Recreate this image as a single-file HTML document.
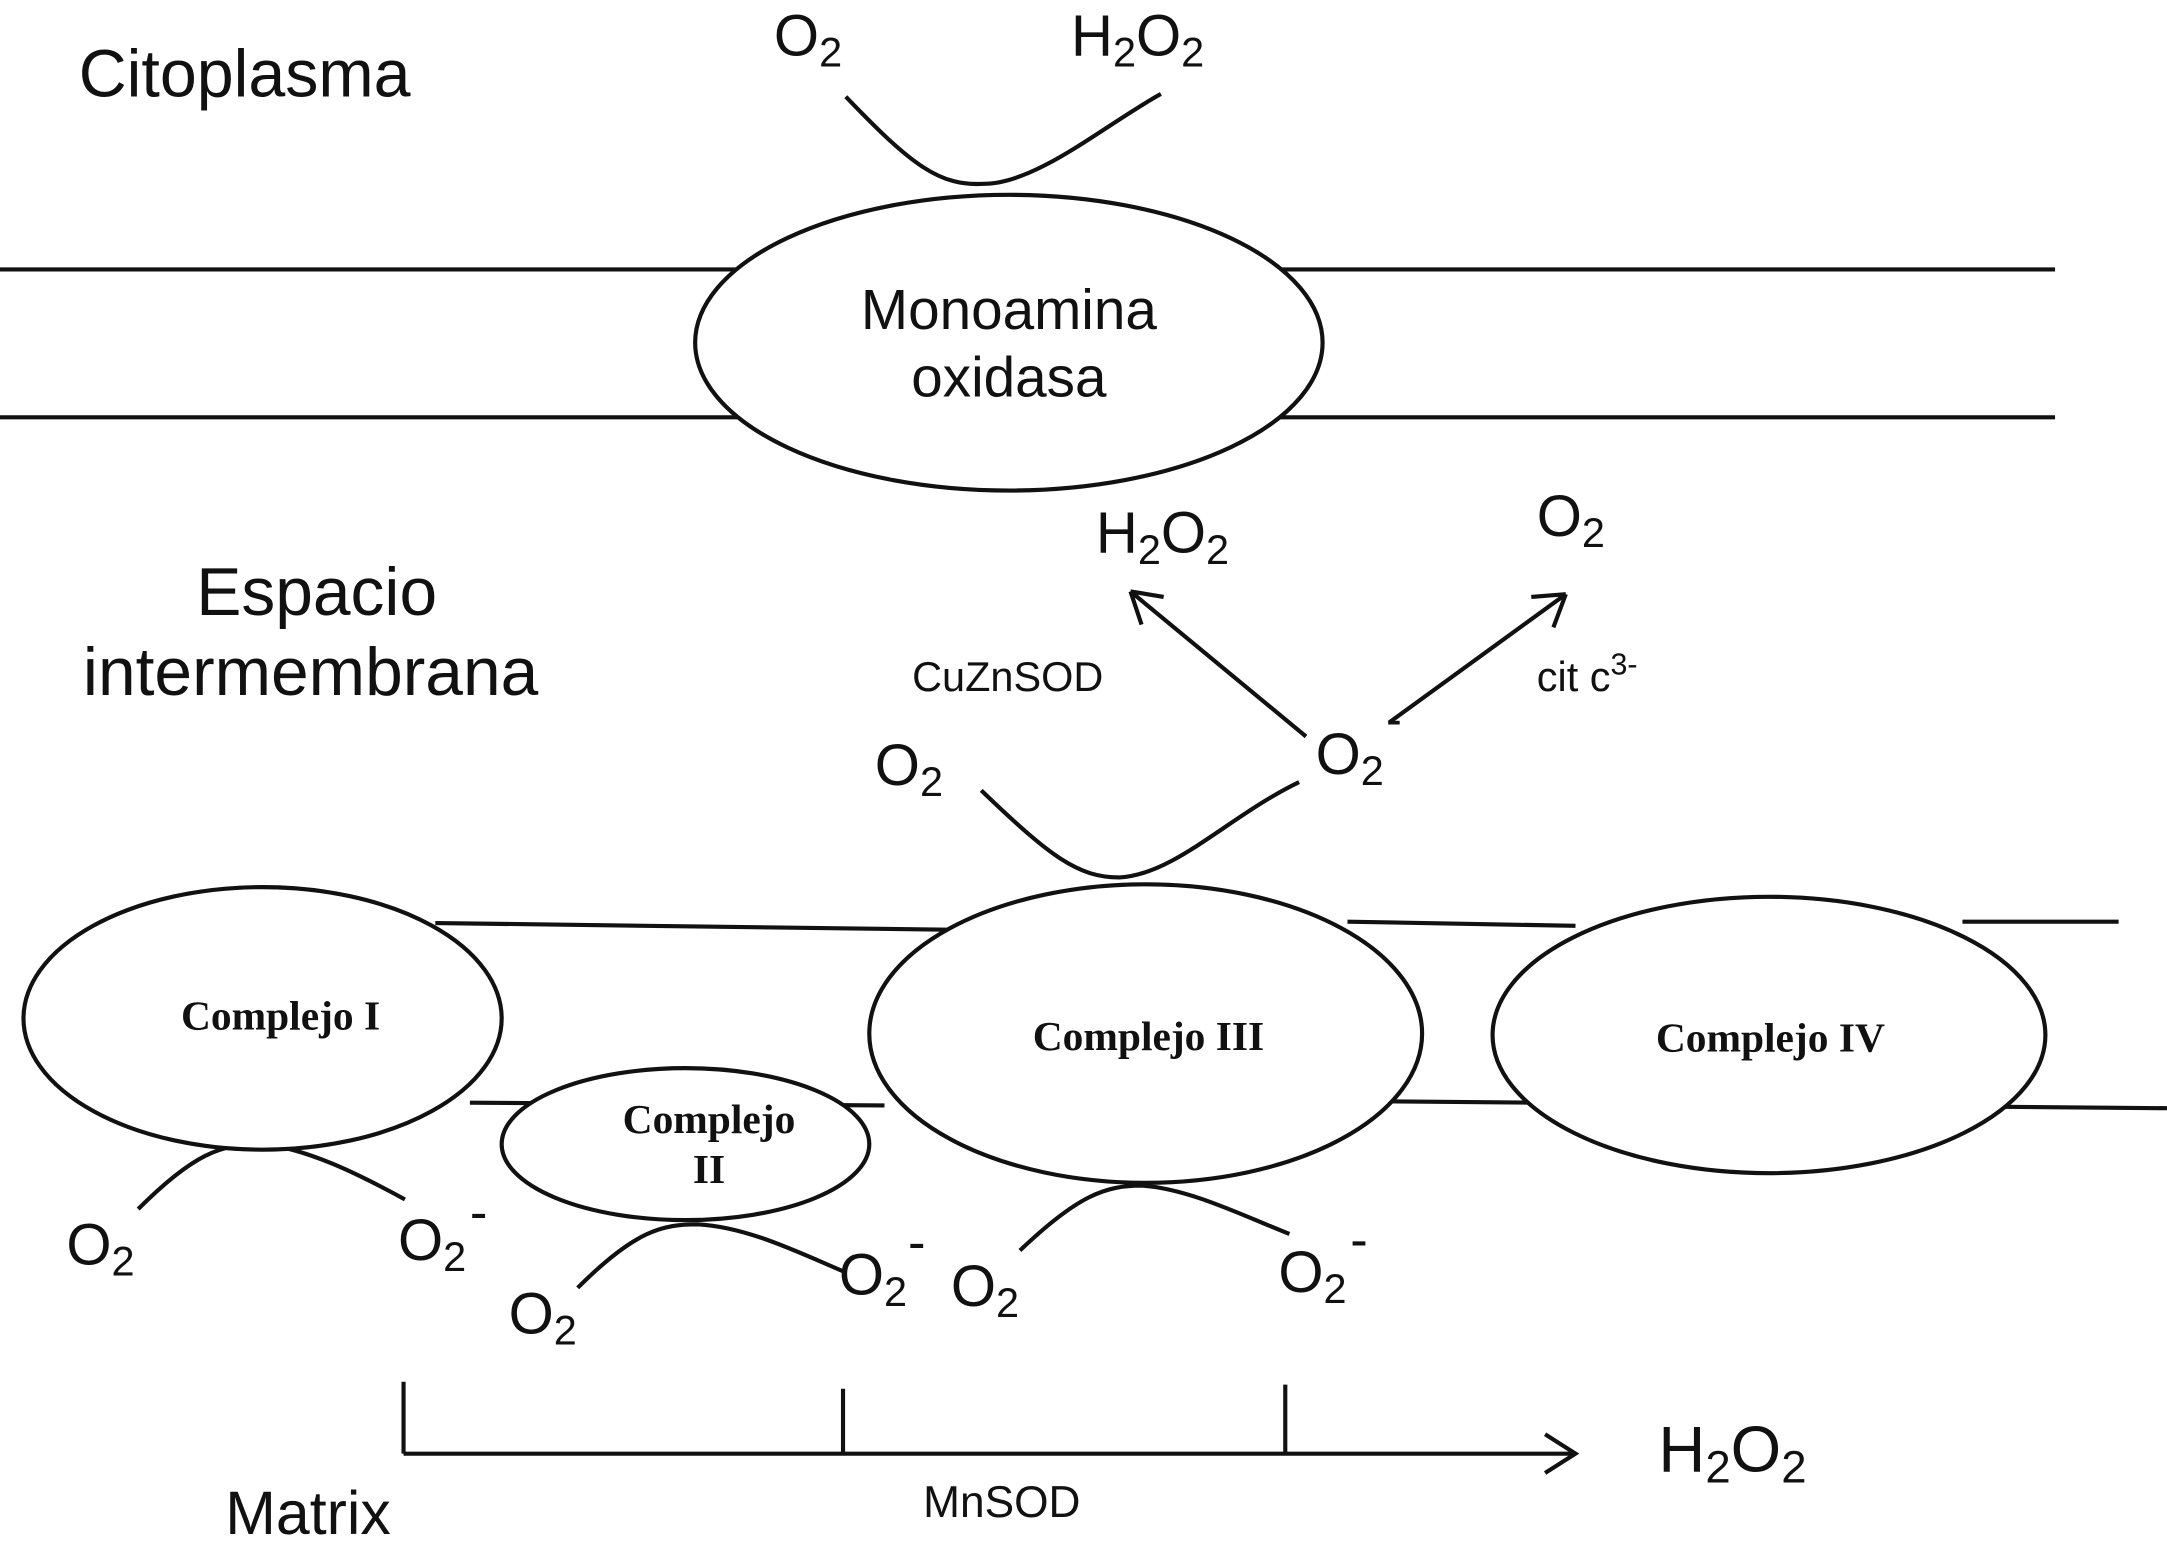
<!DOCTYPE html>
<html><head><meta charset="utf-8"><style>
html,body{margin:0;padding:0;background:#fff;}
svg{display:block;}
text{font-family:"Liberation Sans",sans-serif;fill:#111;}
.b{font-family:"Liberation Serif",serif;font-weight:bold;}
</style></head><body>
<svg width="2167" height="1549" viewBox="0 0 1568 1121" preserveAspectRatio="none" xmlns="http://www.w3.org/2000/svg">
<g stroke="#111" stroke-width="3" fill="none">
<line x1="0" y1="195" x2="1487" y2="195"/>
<line x1="0" y1="302" x2="1487" y2="302"/>
<path d="M612 70 C660 120 680 135 712 133 C750 133 800 90 840 68"/>
<line x1="315" y1="668" x2="700" y2="673"/>
<line x1="975" y1="667" x2="1140" y2="670"/>
<line x1="1420" y1="667" x2="1533" y2="667"/>
<line x1="340" y1="798" x2="640" y2="800"/>
<line x1="1000" y1="797" x2="1568" y2="802"/>
<path d="M710 572 C760 620 780 635 810 635 C850 633 890 590 940 566"/>
<path d="M945 533 L818 428 M818 428 L842 432 M818 428 L826 452"/>
<path d="M1005 523 L1133 430 M1133 430 L1108 432 M1133 430 L1124 454"/>
<path d="M100 875 C140 835 160 828 188 828 C220 830 260 850 293 868"/>
<path d="M418 932 C460 890 480 886 505 886 C540 888 575 905 610 920"/>
<path d="M738 905 C780 865 800 858 826 858 C860 860 900 880 933 893"/>
<line x1="292" y1="1052" x2="1140" y2="1052"/>
<path d="M1118 1038 L1140 1052 L1118 1066"/>
<line x1="292" y1="1000" x2="292" y2="1052"/>
<line x1="610" y1="1005" x2="610" y2="1052"/>
<line x1="930" y1="1002" x2="930" y2="1052"/>
</g>
<g stroke="#111" stroke-width="3" fill="#fff">
<ellipse cx="730" cy="248" rx="227" ry="107"/>
<ellipse cx="190" cy="737" rx="173" ry="95"/>
<ellipse cx="496" cy="828" rx="133" ry="55"/>
<ellipse cx="829" cy="748" rx="200" ry="108"/>
<ellipse cx="1280" cy="749" rx="200" ry="100"/>
</g>
<text x="57" y="70" font-size="48">Citoplasma</text>
<text x="560" y="40" font-size="42">O<tspan font-size="30" dy="8">2</tspan></text>
<text x="775" y="40" font-size="42">H<tspan font-size="30" dy="8">2</tspan><tspan dy="-8">O</tspan><tspan font-size="30" dy="8">2</tspan></text>
<text x="730" y="238" font-size="41" text-anchor="middle">Monoamina</text>
<text x="730" y="287" font-size="41" text-anchor="middle">oxidasa</text>
<text x="142" y="445" font-size="49">Espacio</text>
<text x="60" y="503" font-size="49">intermembrana</text>
<text x="793" y="400" font-size="42">H<tspan font-size="30" dy="8">2</tspan><tspan dy="-8">O</tspan><tspan font-size="30" dy="8">2</tspan></text>
<text x="1112" y="388" font-size="42">O<tspan font-size="30" dy="8">2</tspan></text>
<text x="660" y="500" font-size="30">CuZnSOD</text>
<text x="1112" y="500" font-size="30">cit c<tspan font-size="22" dy="-12">3-</tspan></text>
<text x="633" y="568" font-size="42">O<tspan font-size="30" dy="8">2</tspan></text>
<text x="952" y="560" font-size="42">O<tspan font-size="30" dy="8">2</tspan></text>
<text x="1003" y="532" font-size="34">-</text>
<text class="b" x="203" y="745" font-size="30" text-anchor="middle">Complejo I</text>
<text class="b" x="513" y="820" font-size="30" text-anchor="middle">Complejo</text>
<text class="b" x="513" y="856" font-size="30" text-anchor="middle">II</text>
<text class="b" x="831" y="760" font-size="30" text-anchor="middle">Complejo III</text>
<text class="b" x="1281" y="761" font-size="30" text-anchor="middle">Complejo IV</text>
<text x="48" y="915" font-size="42">O<tspan font-size="30" dy="8">2</tspan></text>
<text x="288" y="912" font-size="42">O<tspan font-size="30" dy="8">2</tspan></text>
<text x="340" y="890" font-size="38">-</text>
<text x="368" y="965" font-size="42">O<tspan font-size="30" dy="8">2</tspan></text>
<text x="607" y="937" font-size="42">O<tspan font-size="30" dy="8">2</tspan></text>
<text x="657" y="912" font-size="38">-</text>
<text x="688" y="945" font-size="42">O<tspan font-size="30" dy="8">2</tspan></text>
<text x="925" y="935" font-size="42">O<tspan font-size="30" dy="8">2</tspan></text>
<text x="977" y="910" font-size="38">-</text>
<text x="1200" y="1065" font-size="47">H<tspan font-size="33" dy="8">2</tspan><tspan dy="-8">O</tspan><tspan font-size="33" dy="8">2</tspan></text>
<text x="668" y="1098" font-size="32">MnSOD</text>
<text x="163" y="1110" font-size="44">Matrix</text>
</svg>
</body></html>
